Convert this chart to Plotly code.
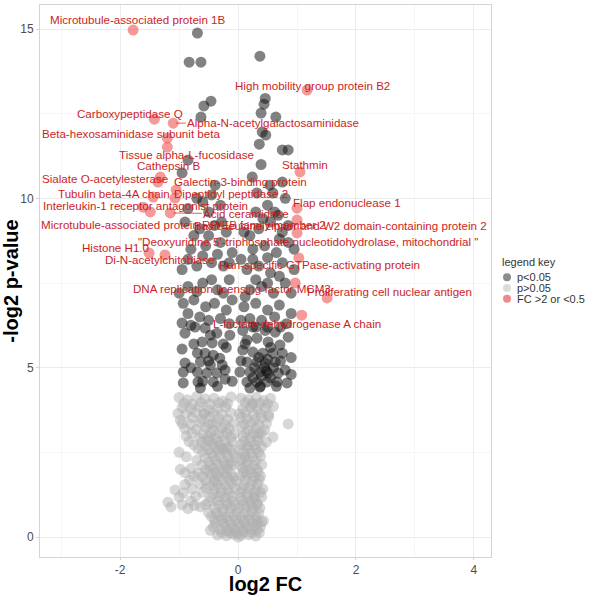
import plotly.graph_objects as go

# ---------------- data ----------------
# not significant (p > 0.05): (log2 FC, -log2 p)
light_pts = [
    (-1.0, 4.12), (-0.86, 4.05), (-0.7, 4.15), (-0.56, 4.08), (-0.41, 4.1), (-0.26, 4.02), (-0.12, 4.14),
    (0.05, 4.1), (0.18, 4.06), (0.31, 4.12), (0.43, 4.03), (0.55, 4.1),
    (-0.92, 3.95), (-0.78, 3.92), (-0.63, 3.97), (-0.48, 3.93), (-0.33, 3.96), (-0.18, 3.94),
    (0.12, 3.97), (0.25, 3.92), (0.37, 3.95), (0.5, 3.93),
    (-0.95, 3.82), (-0.8, 3.78), (-0.66, 3.85), (-0.5, 3.76), (-0.35, 3.8), (-0.21, 3.84),
    (0.08, 3.79), (0.21, 3.83), (0.33, 3.77), (0.46, 3.81), (0.6, 3.86),
    (-1.02, 3.65), (-0.88, 3.63), (-0.72, 3.67), (-0.57, 3.64), (-0.42, 3.66), (-0.27, 3.62),
    (-0.12, 3.66), (0.02, 3.64), (0.13, 3.67), (0.26, 3.63), (0.38, 3.65), (0.52, 3.62),
    (-0.98, 3.45), (-0.78, 3.52), (-0.62, 3.48), (-0.48, 3.55), (-0.33, 3.5), (-0.18, 3.47),
    (0.05, 3.53), (0.15, 3.49), (0.28, 3.46), (0.4, 3.51), (0.52, 3.55), (0.85, 3.34),
    (-0.95, 3.35), (-0.8, 3.33), (-0.64, 3.37), (-0.5, 3.34), (-0.36, 3.36), (-0.22, 3.32),
    (-0.08, 3.36), (0.1, 3.34), (0.22, 3.37), (0.35, 3.33), (0.48, 3.35),
    (-0.9, 3.2), (-0.71, 3.18), (-0.55, 3.24), (-0.42, 3.15), (-0.28, 3.22), (-0.15, 3.19),
    (0.06, 3.25), (0.18, 3.17), (0.3, 3.21), (0.45, 3.16),
    (-0.78, 3.07), (-0.6, 3.05), (-0.46, 3.09), (-0.33, 3.06), (-0.19, 3.08), (-0.06, 3.05),
    (0.13, 3.08), (0.26, 3.06), (0.4, 3.07),
    (-0.88, 2.98), (-0.65, 2.92), (-0.5, 2.96), (-0.38, 2.9), (-0.25, 2.99), (-0.12, 2.94),
    (0.08, 2.97), (0.2, 2.93), (0.33, 2.95), (0.59, 2.95),
    (-0.83, 2.82), (-0.62, 2.8), (-0.48, 2.84), (-0.35, 2.81), (-0.22, 2.83), (-0.1, 2.8),
    (0.1, 2.83), (0.22, 2.81), (0.34, 2.84), (0.48, 2.8),
    (-0.75, 2.72), (-0.55, 2.68), (-0.42, 2.74), (-0.3, 2.7), (-0.18, 2.66), (0.05, 2.73),
    (0.15, 2.69), (0.28, 2.71), (0.4, 2.67),
    (-0.68, 2.6), (-0.5, 2.58), (-0.37, 2.62), (-0.25, 2.59), (-0.13, 2.61), (0.02, 2.58),
    (0.18, 2.62), (0.3, 2.6),
    (-1.0, 2.5), (-0.6, 2.52), (-0.45, 2.47), (-0.33, 2.53), (-0.2, 2.49), (-0.08, 2.46),
    (0.1, 2.51), (0.22, 2.48), (0.35, 2.5),
    (-0.88, 2.37), (-0.56, 2.35), (-0.42, 2.39), (-0.3, 2.36), (-0.17, 2.38), (-0.04, 2.35),
    (0.12, 2.38), (0.25, 2.36), (0.38, 2.39),
    (-0.7, 2.27), (-0.5, 2.22), (-0.38, 2.26), (-0.25, 2.24), (-0.12, 2.21), (0.05, 2.28),
    (0.16, 2.23), (0.3, 2.25),
    (-0.62, 2.12), (-0.47, 2.1), (-0.35, 2.14), (-0.22, 2.11), (-0.1, 2.13), (0.03, 2.1),
    (0.14, 2.13), (0.27, 2.11), (0.4, 2.14),
    (-0.98, 2.0), (-0.8, 2.02), (-0.55, 1.98), (-0.42, 2.03), (-0.3, 1.97), (-0.18, 2.01),
    (0.08, 2.04), (0.2, 1.99), (0.32, 2.0),
    (-0.9, 1.9), (-0.68, 1.88), (-0.5, 1.92), (-0.38, 1.89), (-0.25, 1.91), (-0.12, 1.88),
    (0.1, 1.91), (0.22, 1.89), (0.34, 1.92),
    (-0.75, 1.8), (-0.6, 1.78), (-0.45, 1.83), (-0.33, 1.79), (-0.2, 1.82), (-0.08, 1.77),
    (0.05, 1.81), (0.15, 1.84), (0.28, 1.78), (0.38, 1.8),
    (-0.82, 1.68), (-0.55, 1.66), (-0.4, 1.7), (-0.27, 1.67), (-0.15, 1.69), (-0.03, 1.66),
    (0.12, 1.69), (0.25, 1.67), (0.36, 1.7),
    (-0.9, 1.55), (-0.65, 1.57), (-0.48, 1.52), (-0.35, 1.56), (-0.22, 1.54), (-0.1, 1.58),
    (0.1, 1.53), (0.22, 1.55), (0.33, 1.57),
    (-0.78, 1.42), (-0.54, 1.44), (-0.4, 1.41), (-0.3, 1.43), (-0.17, 1.4), (-0.05, 1.44),
    (0.07, 1.41), (0.19, 1.43), (0.31, 1.4), (0.42, 1.42),
    (-1.07, 1.39), (-0.93, 1.3), (-0.6, 1.32), (-0.42, 1.28), (-0.28, 1.31), (-0.15, 1.29),
    (0.03, 1.33), (0.15, 1.27), (0.27, 1.3), (0.38, 1.32),
    (-1.0, 1.18), (-0.72, 1.2), (-0.46, 1.17), (-0.32, 1.19), (-0.22, 1.16), (-0.1, 1.2),
    (0.04, 1.17), (0.16, 1.19), (0.28, 1.16), (0.4, 1.18),
    (-1.19, 1.03), (-0.8, 1.06), (-0.5, 1.04), (-0.35, 1.07), (-0.2, 1.02), (-0.08, 1.05),
    (0.08, 1.08), (0.2, 1.04), (0.32, 1.0),
    (-0.95, 0.95), (-0.74, 0.93), (-0.55, 0.96), (-0.33, 0.94), (-0.18, 0.97), (-0.05, 0.93),
    (0.1, 0.96), (0.22, 0.94), (0.33, 0.97),
    (-1.14, 0.89), (-0.85, 0.84), (-0.64, 0.89), (-0.4, 0.86), (-0.25, 0.83), (-0.12, 0.87),
    (0.02, 0.85), (0.14, 0.88), (0.26, 0.84), (0.37, 0.86),
    (-0.5, 0.72), (-0.37, 0.7), (-0.26, 0.74), (-0.14, 0.71), (-0.02, 0.73), (0.11, 0.7),
    (0.23, 0.74), (0.35, 0.71),
    (-0.45, 0.6), (-0.32, 0.62), (-0.2, 0.58), (-0.08, 0.61), (0.05, 0.59), (0.17, 0.63),
    (0.3, 0.6), (0.4, 0.45),
    (-0.4, 0.5), (-0.28, 0.52), (-0.15, 0.48), (-0.03, 0.51), (0.1, 0.49), (0.2, 0.52),
    (0.31, 0.5), (0.43, 0.48),
    (-0.38, 0.4), (-0.25, 0.42), (-0.12, 0.38), (0.0, 0.41), (0.12, 0.39), (0.25, 0.43), (0.34, 0.4),
    (-0.42, 0.3), (-0.22, 0.32), (-0.1, 0.28), (0.03, 0.31), (0.15, 0.29), (0.28, 0.32), (0.38, 0.3),
    (-0.47, 0.2), (-0.3, 0.22), (-0.18, 0.18), (-0.05, 0.21), (0.08, 0.19), (0.2, 0.23), (0.32, 0.2),
    (-0.28, 0.12), (-0.14, 0.13), (-0.02, 0.11), (0.1, 0.14), (0.23, 0.12), (0.36, 0.13),
    (-0.35, 0.06), (-0.2, 0.04), (-0.08, 0.08), (0.05, 0.05), (0.18, 0.07), (0.3, 0.03), (0.0, 0.0),
    (-0.58, 3.65), (-0.44, 3.35), (-0.52, 2.85), (-0.27, 2.6), (0.24, 3.95), (0.36, 3.05),
    (-0.16, 2.15), (0.12, 2.35), (-0.4, 1.65), (0.27, 1.15),
]

# significant (p < 0.05), small fold change: (log2 FC, -log2 p)
dark_pts = [
    (-0.69, 14.88), (-0.83, 14.02), (-0.63, 14.02), (0.37, 14.2),
    (-0.58, 12.73), (-0.46, 12.87), (-0.63, 12.4),
    (0.44, 12.78), (0.46, 12.95), (0.39, 12.52), (0.64, 12.4), (0.41, 11.96), (0.47, 11.87),
    (0.36, 11.6), (0.75, 11.43), (0.85, 11.43), (0.39, 11.0),
    (-0.85, 11.13), (-0.95, 10.75), (-0.39, 10.39),
    (0.24, 10.63), (0.54, 10.39), (0.75, 10.48), (0.32, 10.16), (0.59, 10.16), (0.8, 10.0),
    (-0.7, 10.0), (-0.3, 9.8), (-0.5, 9.6), (-0.9, 9.3), (-0.65, 9.1), (-0.4, 9.2), (-0.2, 9.0),
    (-0.8, 8.5), (-0.55, 8.6), (-0.3, 8.7), (-0.1, 8.4), (-0.95, 7.9), (-0.7, 8.0), (-0.45, 8.1),
    (-0.25, 8.0), (-0.85, 7.4), (-0.6, 7.5), (-0.35, 7.3), (-0.15, 7.6), (-0.93, 6.9), (-0.75, 7.0),
    (-0.55, 6.8), (-0.4, 6.9), (-0.2, 6.7), (-0.65, 6.5), (-0.3, 6.45), (-0.85, 6.6),
    (0.5, 9.8), (0.1, 9.0), (0.35, 9.1), (0.55, 9.3), (0.75, 9.0), (0.62, 9.6), (0.25, 8.5),
    (0.45, 8.6), (0.65, 8.4), (0.85, 8.7), (0.15, 7.9), (0.35, 8.0), (0.55, 7.8), (0.75, 8.1),
    (0.95, 7.9), (0.2, 7.3), (0.4, 7.4), (0.6, 7.2), (0.8, 7.5), (0.1, 6.8), (0.3, 6.9), (0.5, 6.7),
    (0.7, 6.85), (0.9, 6.6), (0.2, 6.45), (0.4, 6.4), (0.62, 6.5), (0.82, 6.3),
    (-0.95, 6.32), (-0.73, 6.2), (-0.9, 6.02), (-0.56, 6.17), (-0.47, 5.96), (-0.36, 6.02),
    (-0.14, 5.96), (-0.61, 5.76), (-0.44, 5.73), (-0.95, 5.55), (-0.69, 5.43), (-0.56, 5.43),
    (-0.42, 5.37), (-0.31, 5.28), (-0.9, 5.14), (-0.64, 5.17), (-0.47, 5.08), (-0.27, 5.08),
    (-0.93, 4.87), (-0.69, 4.87), (-0.53, 4.84), (-0.36, 4.84), (-0.22, 4.93), (-0.93, 4.55),
    (-0.68, 4.58), (-0.42, 4.58), (-0.22, 4.66), (-0.64, 4.4),
    (0.08, 6.1), (0.25, 6.2), (0.46, 6.1), (0.63, 6.05), (0.85, 5.9), (0.15, 5.82), (0.32, 5.87),
    (0.51, 5.76), (0.71, 5.67), (0.08, 5.52), (0.25, 5.46), (0.42, 5.43), (0.59, 5.43), (0.75, 5.43),
    (0.15, 5.17), (0.32, 5.17), (0.46, 5.14), (0.63, 5.17), (0.8, 4.93), (0.03, 4.87), (0.2, 4.87),
    (0.37, 4.87), (0.51, 4.84), (0.68, 4.84), (0.15, 4.58), (0.32, 4.58), (0.49, 4.58), (0.66, 4.58),
    (0.83, 4.55), (0.2, 4.4), (0.37, 4.43),
    (0.35, 5.3), (0.45, 5.0), (0.55, 4.7), (0.4, 4.75), (0.28, 5.0), (0.5, 5.25), (0.38, 4.45), (0.6, 5.0),
    (-0.8, 6.25), (-0.5, 6.4), (-0.15, 6.3), (-1.0, 7.2), (-0.7, 7.25), (-0.45, 7.6), (-0.25, 7.2),
    (-0.1, 7.0), (-0.85, 8.2), (-0.6, 8.3), (-0.35, 8.35), (-0.15, 8.1), (-0.75, 8.9), (-0.5, 8.9),
    (-0.28, 9.3), (-0.85, 9.7), (-0.6, 9.9), (-0.45, 10.1), (-0.2, 5.6), (-0.75, 5.7), (-0.6, 4.6),
    (-0.8, 5.0), (-0.35, 4.45), (-0.1, 4.6), (-0.5, 5.2), (-0.25, 5.7),
    (0.3, 6.2), (0.05, 6.4), (0.5, 6.2), (0.72, 6.2), (0.12, 7.1), (0.3, 7.6), (0.5, 7.5), (0.7, 7.7),
    (0.9, 7.2), (0.05, 8.2), (0.25, 8.2), (0.5, 8.25), (0.7, 8.8), (0.95, 8.5), (0.2, 8.9),
    (0.42, 9.4), (0.68, 9.5), (0.85, 9.2), (0.3, 9.6), (0.12, 5.7), (0.55, 5.6), (0.72, 5.2),
    (0.9, 5.3), (0.25, 4.7), (0.65, 4.45), (0.48, 4.9), (0.05, 5.2), (0.9, 4.8),
]

# significant with FC > 2 or < 0.5 (labelled proteins)
red_x = [-1.78, 1.17, -1.42, -1.10, -1.20, -1.20, -1.32, -1.36, -1.05, -1.44, -1.07, -1.61,
         -1.15, -1.49, 1.00, 1.00, -1.51, -1.24, 1.03, 0.97, 1.51, 1.08, 1.05, 1.00]
red_y = [14.97, 13.20, 12.34, 12.22, 11.78, 11.51, 10.63, 10.48, 10.25, 10.04, 10.01, 9.74,
         9.57, 9.60, 9.36, 8.98, 8.39, 8.33, 8.24, 7.50, 7.06, 6.55, 10.78, 9.71]
red_labels = ["Microtubule-associated protein 1B",
              "High mobility group protein B2",
              "Carboxypeptidase Q",
              "Alpha-N-acetylgalactosaminidase",
              "Beta-hexosaminidase subunit beta",
              "Tissue alpha-L-fucosidase",
              "Cathepsin B",
              "Sialate O-acetylesterase",
              "Galectin-3-binding protein",
              "Tubulin beta-4A chain",
              "Dipeptidyl peptidase 2",
              "Interleukin-1 receptor antagonist protein",
              "Acid ceramidase",
              "Microtubule-associated protein RP/EB family member 2",
              "Basic leucine zipper and W2 domain-containing protein 2",
              "\"Deoxyuridine 5'-triphosphate nucleotidohydrolase, mitochondrial \"",
              "Histone H1.0",
              "Di-N-acetylchitobiase",
              "Ran-specific GTPase-activating protein",
              "DNA replication licensing factor MCM3",
              "Proliferating cell nuclear antigen",
              "L-lactate dehydrogenase A chain",
              "Stathmin",
              "Flap endonuclease 1"]

x_ticks = [-2, 0, 2, 4]
y_ticks = [0, 5, 10, 15]
legend_names = ["p<0.05", "p>0.05", "FC >2 or <0.5"]

light_x = [p[0] for p in light_pts]
light_y = [p[1] for p in light_pts]
dark_x = [p[0] for p in dark_pts]
dark_y = [p[1] for p in dark_pts]

# ---------------- layout helpers (pixel offsets of labels) ----------------
label_offsets = [(5, 11), (5, 5), (-24, 6), (100, 1), (-36, 5), (19, -7), (8, 12), (-53, 4),
                 (64, 8), (-39, 4), (56, 5), (2, 2), (76, -1), (33, -13), (43, -5), (11, -9),
                 (-34, 5), (-5, -5), (21, -7), (-63, -5), (62, 6), (-5, -8), (5, 7), (50, 6)]
segment_labels = {"Alpha-N-acetylgalactosaminidase", "Acid ceramidase"}

FONT = "Liberation Sans, Arial, sans-serif"
TXT_RED = "#cc1e1e"
C_DARK = "rgba(15,15,15,0.52)"
C_LIGHT = "rgba(175,175,175,0.5)"
C_RED = "rgba(236,70,70,0.55)"
LBL_SIZE = 11.6

fig = go.Figure()
fig.add_trace(go.Scatter(x=light_x, y=light_y, mode="markers", name=legend_names[1],
                         marker=dict(size=11, color=C_LIGHT, line=dict(width=0)),
                         showlegend=False, hoverinfo="skip"))
fig.add_trace(go.Scatter(x=dark_x, y=dark_y, mode="markers", name=legend_names[0],
                         marker=dict(size=11, color=C_DARK, line=dict(width=0)),
                         showlegend=False, hoverinfo="skip"))
fig.add_trace(go.Scatter(x=red_x, y=red_y, mode="markers", name=legend_names[2],
                         marker=dict(size=11, color=C_RED, line=dict(width=0)),
                         showlegend=False, text=red_labels, hoverinfo="text"))

annotations = []
for lx, ly, lab, (dx, dy) in zip(red_x, red_y, red_labels, label_offsets):
    if lab in segment_labels:
        annotations.append(dict(x=lx, y=ly, xref="x", yref="y", text=lab, showarrow=True,
                                ax=dx, ay=-dy, arrowhead=0, arrowwidth=0.7,
                                arrowcolor=TXT_RED, standoff=3,
                                font=dict(family=FONT, size=LBL_SIZE, color=TXT_RED)))
    else:
        annotations.append(dict(x=lx, y=ly, xref="x", yref="y", text=lab, showarrow=False,
                                xshift=dx, yshift=dy,
                                font=dict(family=FONT, size=LBL_SIZE, color=TXT_RED)))

# legend (drawn manually, compact like ggplot)
leg_colors = ["#8c8c8c", "#dcdcdc", "#f08a8a"]
annotations.append(dict(x=1.02, y=0.534, xref="paper", yref="paper", text="legend key",
                        showarrow=False, xanchor="left", yanchor="middle",
                        font=dict(family=FONT, size=11, color="#333333")))
shapes = []
for i, (nm, col) in enumerate(zip(legend_names, leg_colors)):
    yy = 0.507 - i * 0.0195
    annotations.append(dict(x=1.0535, y=yy, xref="paper", yref="paper", text=nm,
                            showarrow=False, xanchor="left", yanchor="middle",
                            font=dict(family=FONT, size=11, color="#333333")))
    shapes.append(dict(type="circle", xref="paper", yref="paper",
                       xsizemode="pixel", ysizemode="pixel",
                       xanchor=1.0355, yanchor=yy, x0=-4, x1=4, y0=-4, y1=4,
                       fillcolor=col, line=dict(width=0)))

fig.update_layout(
    width=596, height=595,
    margin=dict(l=40, r=105, t=5, b=38),
    paper_bgcolor="white", plot_bgcolor="white",
    font=dict(family=FONT, color="#4d4d4d"),
    showlegend=False,
    annotations=annotations,
    shapes=shapes,
)
fig.update_xaxes(
    range=[-3.36, 4.29], tickvals=x_ticks, ticktext=[str(v) for v in x_ticks],
    showgrid=True, gridcolor="#ececec", gridwidth=0.6,
    minor=dict(dtick=1, showgrid=True, gridcolor="#f6f6f6", gridwidth=0.5),
    zeroline=False, showline=True, linecolor="#d4d4d4", linewidth=1, mirror=True,
    ticks="outside", ticklen=2, tickcolor="#d4d4d4",
    tickfont=dict(size=12, color="#4d4d4d"),
    title=dict(text="<b>log2 FC</b>", font=dict(size=20, color="#000000"), standoff=0),
    automargin=False,
)
fig.update_yaxes(
    range=[-0.59, 15.71], tickvals=y_ticks, ticktext=[str(v) for v in y_ticks],
    showgrid=True, gridcolor="#ececec", gridwidth=0.6,
    minor=dict(dtick=2.5, showgrid=True, gridcolor="#f6f6f6", gridwidth=0.5),
    zeroline=False, showline=True, linecolor="#d4d4d4", linewidth=1, mirror=True,
    ticks="outside", ticklen=3, tickcolor="#d4d4d4",
    tickfont=dict(size=12, color="#4d4d4d"),
    title=dict(text="<b>-log2 p-value</b>", font=dict(size=20, color="#000000"), standoff=4),
    automargin=False,
)

fig.write_html("out.html")
